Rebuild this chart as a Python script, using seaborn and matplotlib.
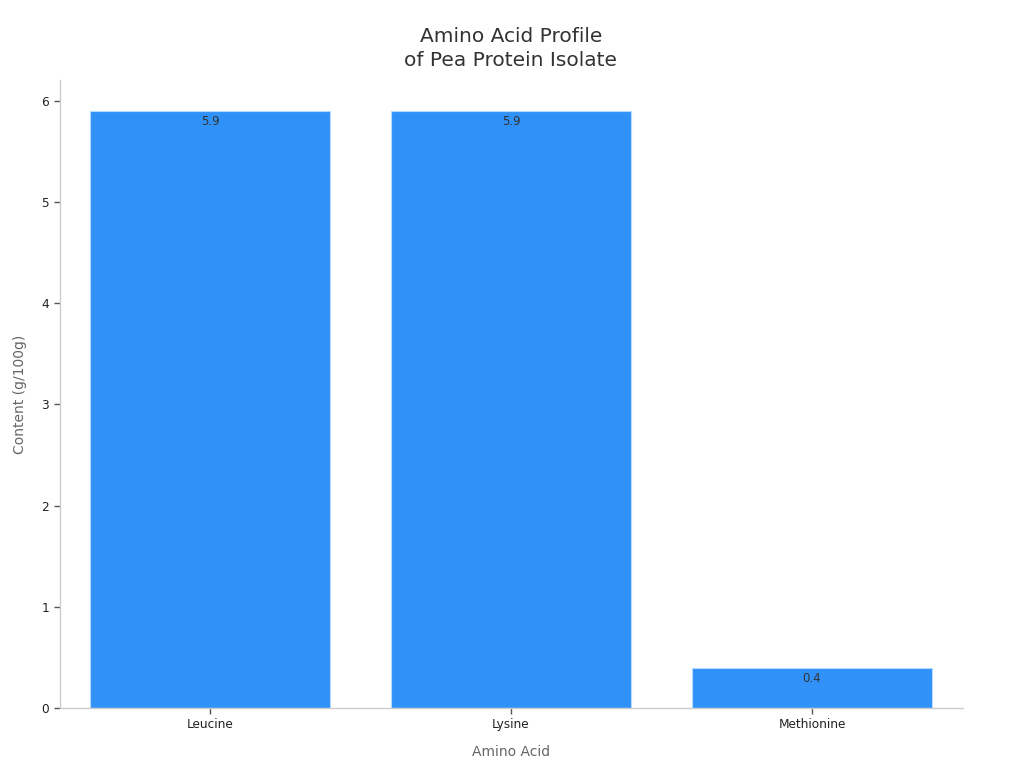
import matplotlib
matplotlib.use("Agg")
import matplotlib.pyplot as plt
import seaborn as sns
import pandas as pd

amino_acids = ["Leucine", "Lysine", "Methionine"]
content = [5.9, 5.9, 0.4]

sns.set_theme(style="white")
plt.rcParams['font.family'] = ['DejaVu Sans']

df = pd.DataFrame({"Amino Acid": amino_acids, "Content": content})

fig = plt.figure(figsize=(10.24, 7.68), dpi=100)
ax = fig.add_axes([59.5/1024, 1 - 708/768, (962.5-59.5)/1024, (708-80)/768])

sns.barplot(data=df, x="Amino Acid", y="Content", color="#3092F8", saturation=1,
            width=0.8, edgecolor="#B4D9FC", linewidth=0.8, ax=ax)

for i, v in enumerate(content):
    ax.annotate(f"{v}", (i, v), xytext=(0, -3), textcoords="offset points",
                ha="center", va="top", fontsize=8.5, color="#333333")

ax.set_xlim(-0.5, 2.5)
ax.set_ylim(0, 6.206)
ax.set_yticks([0, 1, 2, 3, 4, 5, 6])

for side in ["top", "right"]:
    ax.spines[side].set_visible(False)
for side in ["left", "bottom"]:
    ax.spines[side].set_color("#cccccc")
    ax.spines[side].set_linewidth(1)

ax.tick_params(axis="both", which="both", length=4, width=1, color="#555555",
               labelsize=8.7, labelcolor="#222222", left=True, bottom=True)

ax.set_xlabel("Amino Acid", fontsize=10, color="#666666", labelpad=10)
ax.set_ylabel("Content (g/100g)", fontsize=10, color="#666666", labelpad=10)
ax.set_title("Amino Acid Profile\nof Pea Protein Isolate", fontsize=14.5, color="#333333",
             pad=10, linespacing=1.35)

fig.savefig("out.png", dpi=100)
